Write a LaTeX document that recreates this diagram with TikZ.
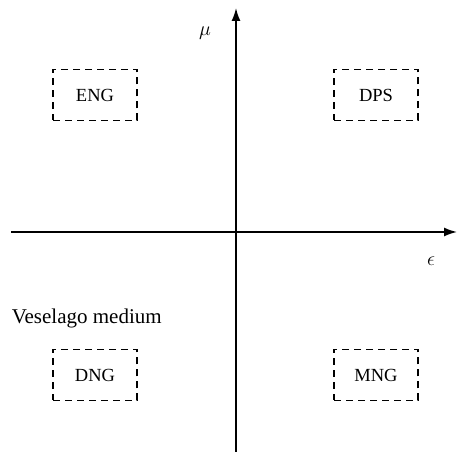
\RequirePackage{fix-cm}
\documentclass[tikz,border=0pt]{standalone}
\usepackage{fontspec}
\setmainfont{Liberation Serif}
\usetikzlibrary{arrows.meta}
\begin{document}
\begin{tikzpicture}[x=1pt, y=1pt, line width=1.6pt,
    medbox/.style={draw, dashed, dash pattern=on 7pt off 5pt, minimum width=84pt, minimum height=51pt, font=\fontsize{18.5}{21}\selectfont},
    axis/.style={-{Latex[length=13pt, width=9pt]}},
    axlabel/.style={font=\fontsize{20}{22}\selectfont}]
            \useasboundingbox (0,0) rectangle (458,454);

            % Draw the axes
            \coordinate (xstart) at (11,222);
            \coordinate (xend) at (457,222);
            \coordinate (ystart) at (236,2);
            \coordinate (yend) at (236,446);
            \draw[axis] (xstart) -- (xend);
            \draw[axis] (ystart) -- (yend);

            \node[axlabel] (mu) at (205,421) {$\mu$};
            \node[axlabel] (eps) at (431,193) {$\epsilon$};

            % Draw the four boxes
            \node[medbox] (eng) at (95,359) {ENG};
            \node[medbox] (dps) at (376,359) {DPS};
            \node[medbox] (dng) at (95,79) {DNG};
            \node[medbox] (mng) at (376,79) {MNG};

            \node[anchor=west, inner sep=0pt, font=\fontsize{21}{23}\selectfont] (vese) at (11,136) {Veselago medium};

        \end{tikzpicture}
\end{document}
